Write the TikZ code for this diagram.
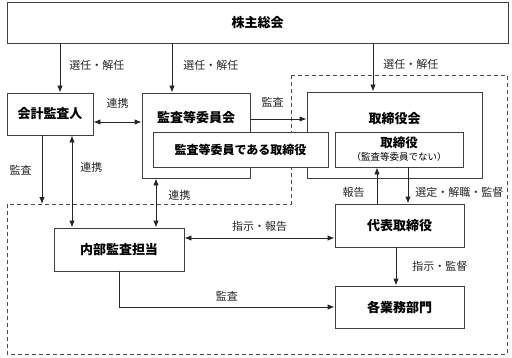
\documentclass[tikz,border=0pt]{standalone}
\usepackage{fontspec}
\setmainfont{Noto Sans CJK JP}
\usetikzlibrary{arrows.meta, calc, positioning}
\tikzset{
  box/.style    ={draw=black!75, line width=0.9pt, fill=white, inner sep=0pt, font=\bfseries\fontsize{13}{15}\selectfont},
  ttl/.style    ={inner sep=0pt, font=\bfseries\fontsize{13}{15}\selectfont},
  lbl/.style    ={inner sep=1pt, font=\fontsize{11}{13}\selectfont},
  arr/.style    ={-{Latex[length=7pt,width=5.5pt]}, line width=0.9pt, black!85},
  dbl/.style    ={{Latex[length=7pt,width=5.5pt]}-{Latex[length=7pt,width=5.5pt]}, line width=0.9pt, black!85},
  region/.style ={dash pattern=on 4pt off 3pt, line width=0.7pt, black!70}, % executive side
}

\begin{document}
\begin{tikzpicture}[x=1pt, y=1pt]
  \useasboundingbox (0,0) rectangle (512,357);
  \draw[region] (291,282) -- (507,282) -- (507,3) -- (7,3) -- (7,153) -- (291,153) -- cycle;
  \coordinate (kaikeiAud) at (42,153);

  \node[box, minimum width=501pt, minimum height=41pt] (gm) at (257.5,334.5) {株主総会};
  \node[box, minimum width=86pt, minimum height=42pt] (kaikei) at (50,243) {会計監査人};
  \node[box, minimum width=108pt, minimum height=85pt] (iinkai) at (196,221.5) {};
  \node[ttl] (iinkaiT) at (196,239) {監査等委員会};
  \node[box, minimum width=175pt, minimum height=86pt] (torikai) at (394.5,222) {};
  \node[ttl] (torikaiT) at (394.5,238) {取締役会};
  \node[box, minimum width=175pt, minimum height=35pt, font=\bfseries\fontsize{12}{14}\selectfont] (iintori) at (240.5,207.5) {監査等委員である取締役};
  \node[box, minimum width=128pt, minimum height=35pt, align=center, font=\bfseries\fontsize{12.5}{15}\selectfont] (tori) at (399,207.5)
    {取締役\\[-2pt]{\mdseries\fontsize{9.5}{11}\selectfont （監査等委員でない）}};
  \node[box, minimum width=130pt, minimum height=43pt] (naibu) at (119,107.5) {内部監査担当};
  \node[box, minimum width=129pt, minimum height=43pt] (daihyo) at (399.5,131.5) {代表取締役};
  \node[box, minimum width=129pt, minimum height=42pt] (gyomu) at (399.5,50) {各業務部門};

  % shareholders' meeting
  \draw[arr] ([xshift=10pt]kaikei.north |- gm.south) -- node[lbl, right=8pt, yshift=3pt] (senA) {選任・解任} ([xshift=10pt]kaikei.north);
  \draw[arr] ([xshift=-24pt]iinkai.north |- gm.south) -- node[lbl, right=10pt, yshift=3pt] (senB) {選任・解任} ([xshift=-24pt]iinkai.north);
  \draw[arr] ([xshift=-21.5pt]torikai.north |- gm.south) -- node[lbl, right=9pt, yshift=3pt] (senC) {選任・解任} ([xshift=-21.5pt]torikai.north);

  \draw[dbl] ([yshift=-8pt]kaikei.east) -- node[lbl, above=12pt] (renA) {連携} ([yshift=-8pt]kaikei.east -| iinkai.west);
  \draw[arr] ([yshift=16.5pt]iinkai.east) -- node[lbl, above=10pt, xshift=-6pt] (kanA) {監査} ([yshift=16.5pt]iinkai.east -| torikai.west);
  \draw[arr] ([xshift=-8pt]kaikei.south) -- node[lbl, left=9pt] (kanB) {監査} (kaikeiAud);
  \draw[dbl] ([xshift=22pt]kaikei.south) -- node[lbl, right=7pt, pos=0.35] (renB) {連携} ([xshift=22pt]kaikei.south |- naibu.north);
  \draw[dbl] ([xshift=-40pt]iinkai.south) -- node[lbl, right=11pt, pos=0.34] (renC) {連携} ([xshift=-40pt]iinkai.south |- naibu.north);

  % executive side
  \draw[arr] ([xshift=-22.5pt]daihyo.north) -- node[lbl, left=11pt, pos=0.3] (hok) {報告} ([xshift=-22.5pt]daihyo.north |- tori.south);
  \draw[arr] ([xshift=9pt]tori.south) -- node[lbl, right=6pt, pos=0.7] (sentei) {選定・解職・監督} ([xshift=9pt]tori.south |- daihyo.north);
  \draw[dbl] ([yshift=11.5pt]naibu.east) -- node[lbl, above=5pt] (shiji) {指示・報告} ([yshift=11.5pt]naibu.east -| daihyo.west);
  \draw[arr] ([xshift=-3.5pt]daihyo.south) -- node[lbl, right=15pt] (kantoku) {指示・監督} ([xshift=-3.5pt]daihyo.south |- gyomu.north);
  \draw[arr] (naibu.south) |- node[lbl, above=4pt, pos=0.75] (kanC) {監査} (gyomu.west);
\end{tikzpicture}
\end{document}
